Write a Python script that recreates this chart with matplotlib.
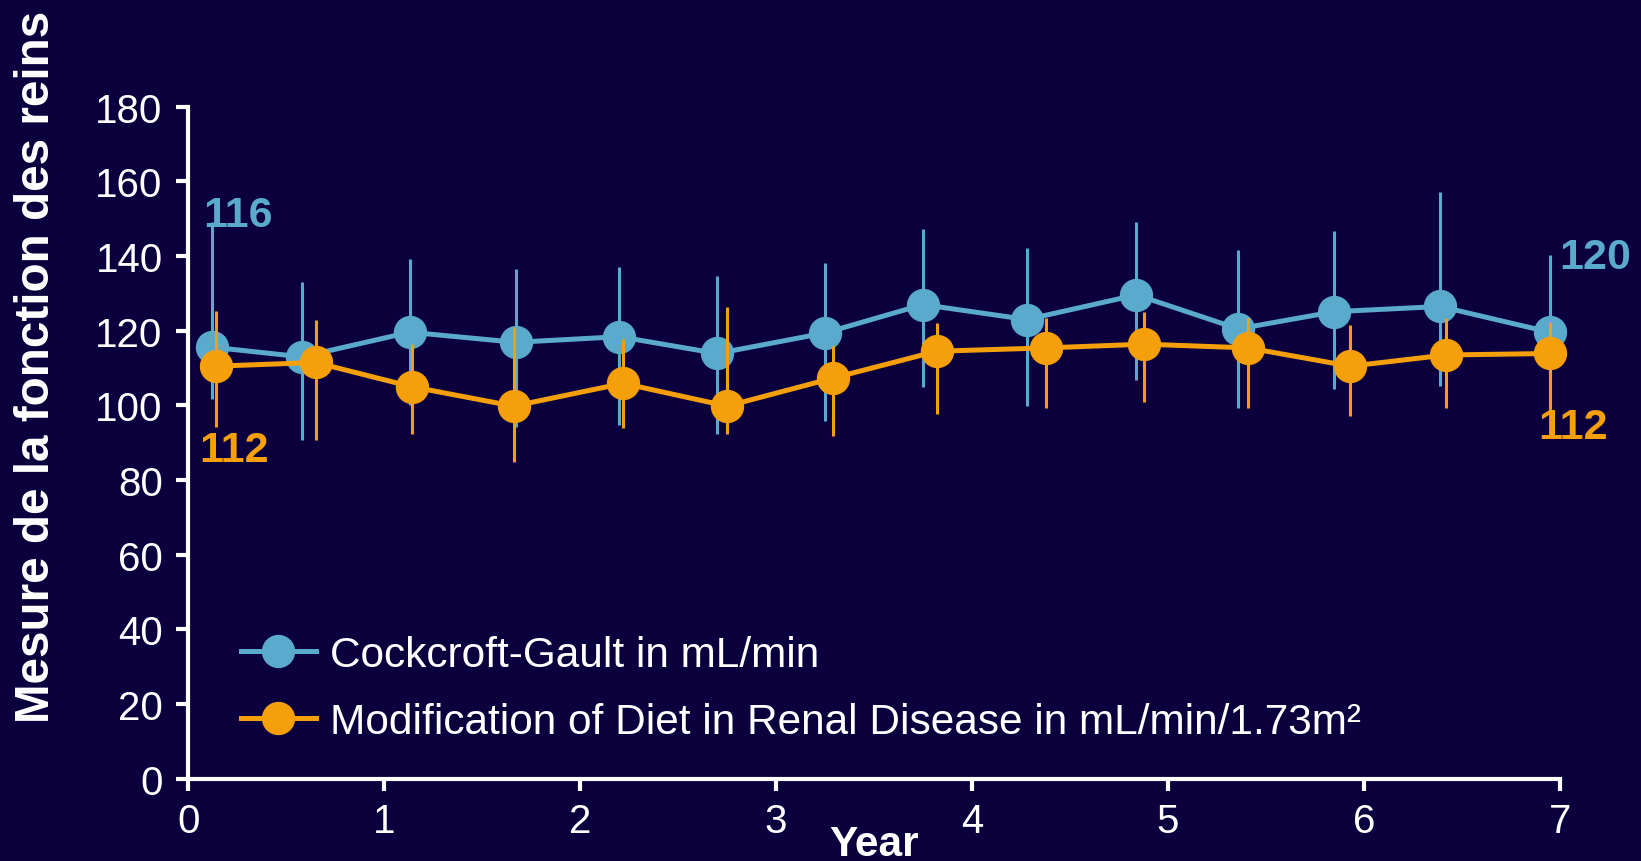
import matplotlib
matplotlib.use("Agg")
import matplotlib.pyplot as plt
from matplotlib.lines import Line2D

BG = "#0b003d"
BLUE = "#5aaacd"
ORANGE = "#f5a00a"

# ---- data ----
cg_year = [0.12, 0.58, 1.13, 1.67, 2.20, 2.70, 3.25, 3.75, 4.28, 4.84, 5.36, 5.85, 6.39, 6.95]
cg_mean = [115.6, 113.0, 119.6, 116.9, 118.4, 113.9, 119.4, 127.0, 123.0, 129.6, 120.5, 125.1, 126.5, 119.6]
cg_low = [101.7, 90.7, 100.0, 94.1, 94.7, 92.3, 95.9, 105.0, 99.9, 106.8, 99.3, 104.4, 105.3, 98.2]
cg_high = [149.0, 133.0, 139.2, 136.5, 137.0, 134.6, 138.1, 147.3, 142.2, 149.2, 141.6, 146.6, 157.1, 140.3]

md_year = [0.14, 0.65, 1.14, 1.66, 2.22, 2.75, 3.29, 3.82, 4.38, 4.88, 5.41, 5.93, 6.42, 6.95]
md_mean = [110.5, 111.5, 105.0, 99.8, 105.9, 99.8, 107.3, 114.5, 115.4, 116.4, 115.4, 110.5, 113.5, 113.9]
md_low = [94.3, 90.7, 92.3, 84.8, 93.9, 92.3, 91.9, 97.7, 99.3, 101.0, 99.3, 97.2, 99.3, 99.0]
md_high = [125.4, 122.9, 116.4, 120.9, 117.8, 126.3, 116.0, 122.1, 123.4, 125.1, 123.4, 121.5, 123.3, 122.3]

series_labels = ["Cockcroft-Gault in mL/min",
                 "Modification of Diet in Renal Disease in mL/min/1.73m\u00b2"]
end_labels = ["116", "112", "120", "112"]
xticks = [0, 1, 2, 3, 4, 5, 6, 7]
yticks = [0, 20, 40, 60, 80, 100, 120, 140, 160, 180]
ylabel = "Mesure de la fonction des reins"
xlabel = "Year"

plt.rcParams['font.family'] = ['Liberation Sans', 'DejaVu Sans']

fig = plt.figure(figsize=(16.41, 8.62), dpi=100, facecolor=BG)
ax = fig.add_axes([0.1148, 0.0955, 0.8356, 0.7795], facecolor=BG)

ms = 23
for yr, m, lo, hi, c in [(cg_year, cg_mean, cg_low, cg_high, BLUE),
                         (md_year, md_mean, md_low, md_high, ORANGE)]:
    err = [[mm - l for mm, l in zip(m, lo)], [h - mm for mm, h in zip(m, hi)]]
    eb = ax.errorbar(yr, m, yerr=err, fmt='none', ecolor=c, elinewidth=2.2, capsize=0)
    for art in eb.lines[2]:
        art.set_clip_on(False)
    ax.plot(yr, m, color=c, lw=3.6, marker='o', ms=ms, mec=c, mfc=c, clip_on=False)

txt_kw = dict(fontsize=31, fontweight='bold', ha='center', va='center',
              textcoords='offset points')
ax.annotate(end_labels[0], (cg_year[0], cg_mean[0]), xytext=(19, 95), color=BLUE, **txt_kw)
ax.annotate(end_labels[1], (md_year[0], md_mean[0]), xytext=(13, -60), color=ORANGE, **txt_kw)
ax.annotate(end_labels[2], (cg_year[-1], cg_mean[-1]), xytext=(33, 54), color=BLUE, **txt_kw)
ax.annotate(end_labels[3], (md_year[-1], md_mean[-1]), xytext=(17, -53), color=ORANGE, **txt_kw)

ax.set_xlim(0, 7)
ax.set_ylim(0, 180)
ax.set_xticks(xticks)
ax.set_yticks(yticks)
for s in ['top', 'right']:
    ax.spines[s].set_visible(False)
for s in ['left', 'bottom']:
    ax.spines[s].set_color('white')
    ax.spines[s].set_linewidth(3)
ax.tick_params(colors='white', labelsize=29, width=3, length=8.5, direction='out')
ax.tick_params(axis='x', pad=8)
ax.tick_params(axis='y', pad=10)

handles = [Line2D([], [], color=BLUE, lw=3.6, marker='o', ms=ms),
           Line2D([], [], color=ORANGE, lw=3.6, marker='o', ms=ms)]
leg = ax.legend(handles, series_labels, loc='lower left', bbox_to_anchor=(0.026, 0.03),
                frameon=False, fontsize=30.5, handlelength=1.77, handletextpad=0.32,
                labelspacing=0.62, borderaxespad=0)
for t in leg.get_texts():
    t.set_color('white')

fig.text(37 / 1641, 1 - 367 / 862, ylabel, rotation=90, color='white', fontsize=34.3,
         fontweight='bold', ha='center', va='center')
fig.text(874 / 1641, 1 - 845 / 862, xlabel, color='white', fontsize=30.5,
         fontweight='bold', ha='center', va='center')

fig.savefig("out.png", dpi=100, facecolor=BG)
